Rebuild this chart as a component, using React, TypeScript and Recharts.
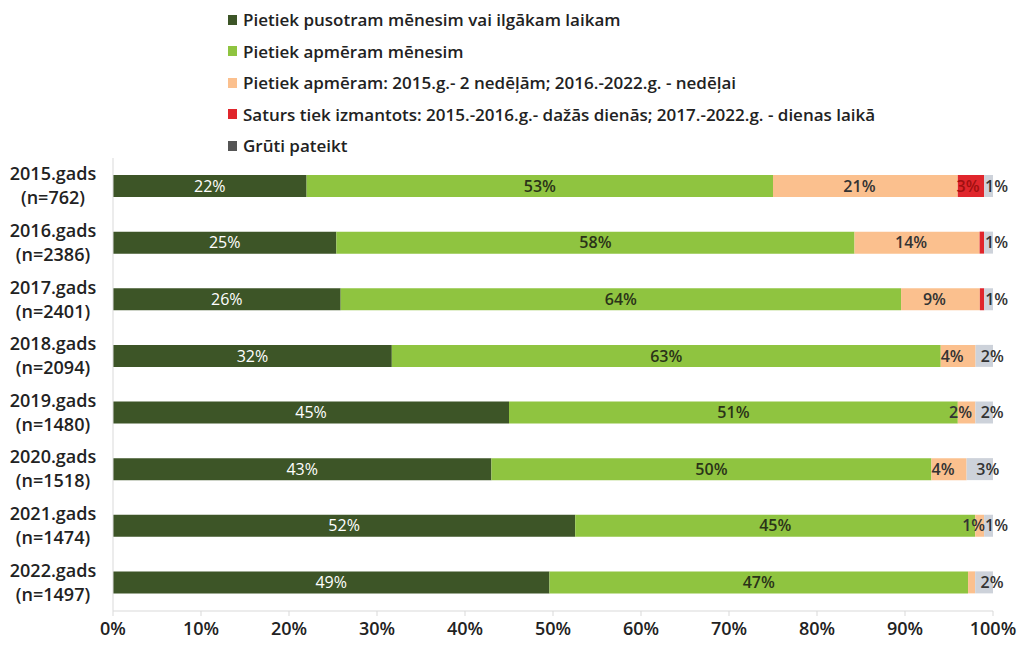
import { Bar, BarChart, LabelList, XAxis, YAxis } from "recharts"

const years = ["2015.gads", "2016.gads", "2017.gads", "2018.gads", "2019.gads", "2020.gads", "2021.gads", "2022.gads"]
const sampleSizes = ["(n=762)", "(n=2386)", "(n=2401)", "(n=2094)", "(n=1480)", "(n=1518)", "(n=1474)", "(n=1497)"]

// shares in %, read from the bar labels (tiny slivers estimated)
const longer = [22, 25, 26, 32, 45, 43, 52, 49]
const month = [53, 58, 64, 63, 51, 50, 45, 47]
const week = [21, 14, 9, 4, 2, 4, 1, 0.8]
const day = [3, 0.5, 0.5, 0, 0, 0, 0, 0]
const hard = [1, 1, 1, 2, 2, 3, 1, 2]

const xTicks = [0, 0.1, 0.2, 0.3, 0.4, 0.5, 0.6, 0.7, 0.8, 0.9, 1]

const series = [
  { key: "longer", name: "Pietiek pusotram mēnesim vai ilgākam laikam", color: "#3d5527", text: "#ffffff", dx: 0 },
  { key: "month", name: "Pietiek apmēram mēnesim", color: "#8fc440", text: "#2a3318", dx: 0 },
  { key: "week", name: "Pietiek apmēram: 2015.g.- 2 nedēļām; 2016.-2022.g. - nedēļai", color: "#fbc08e", text: "#333333", dx: -6 },
  { key: "day", name: "Saturs tiek izmantots: 2015.-2016.g.- dažās dienās; 2017.-2022.g. - dienas laikā", color: "#e0262c", text: "#a01010", dx: -3 },
  { key: "hard", name: "Grūti pateikt", color: "#cdd2da", text: "#333333", dx: 8 },
]

const data = years.map((year, i) => ({
  year,
  longer: longer[i],
  month: month[i],
  week: week[i],
  day: day[i],
  hard: hard[i],
}))

const font = "'Open Sans', sans-serif"

function YearTick(props: any) {
  const { x, y, payload, index } = props
  return (
    <text x={x - 52} y={y} textAnchor="middle" fontFamily={font} fontSize={18} fontWeight={600} fill="#222">
      <tspan x={x - 52} dy={-6}>{payload.value}</tspan>
      <tspan x={x - 52} dy={24}>{sampleSizes[index]}</tspan>
    </text>
  )
}

function LegendList() {
  return (
    <div
      style={{
        position: "absolute",
        left: 228,
        top: 4,
        fontFamily: font,
        fontSize: 17,
        fontWeight: 600,
        color: "#222",
      }}
    >
      {series.map((s) => (
        <div key={s.key} style={{ display: "flex", alignItems: "center", height: 31.5, whiteSpace: "nowrap" }}>
          <span style={{ width: 9, height: 10, background: s.key === "hard" ? "#555" : s.color, marginRight: 6 }} />
          <span>{s.name}</span>
        </div>
      ))}
    </div>
  )
}

export default function App() {
  return (
    <div style={{ position: "absolute", left: 0, top: 0, width: 1018, height: 645, background: "#fff" }}>
      <BarChart
        width={1018}
        height={645}
        data={data}
        layout="vertical"
        stackOffset="expand"
        barSize={22}
        margin={{ top: 158, right: 25, bottom: 4, left: 0 }}
      >
        <XAxis
          type="number"
          domain={[0, 1]}
          ticks={xTicks}
          tickFormatter={(v) => `${Math.round(v * 100)}%`}
          axisLine={{ stroke: "#d9d9d9" }}
          tickLine={{ stroke: "#d9d9d9" }}
          tickSize={5}
          tick={{ fontFamily: font, fontSize: 18, fontWeight: 600, fill: "#222" }}
          tickMargin={6}
        />
        <YAxis
          type="category"
          dataKey="year"
          width={113}
          axisLine={{ stroke: "#d9d9d9" }}
          tickLine={false}
          tick={<YearTick />}
          interval={0}
        />
        {series.map((s) => (
          <Bar key={s.key} dataKey={s.key} name={s.name} stackId="a" fill={s.color} isAnimationActive={false}>
            <LabelList
              dataKey={s.key}
              position="center"
              fill={s.text}
              fontFamily={font}
              fontSize={16}
              fontWeight={s.key === "longer" ? 400 : 600}
              dx={s.dx}
              formatter={(v: any) => (v >= 1 ? `${v}%` : "")}
            />
          </Bar>
        ))}
      </BarChart>
      <LegendList />
    </div>
  )
}
